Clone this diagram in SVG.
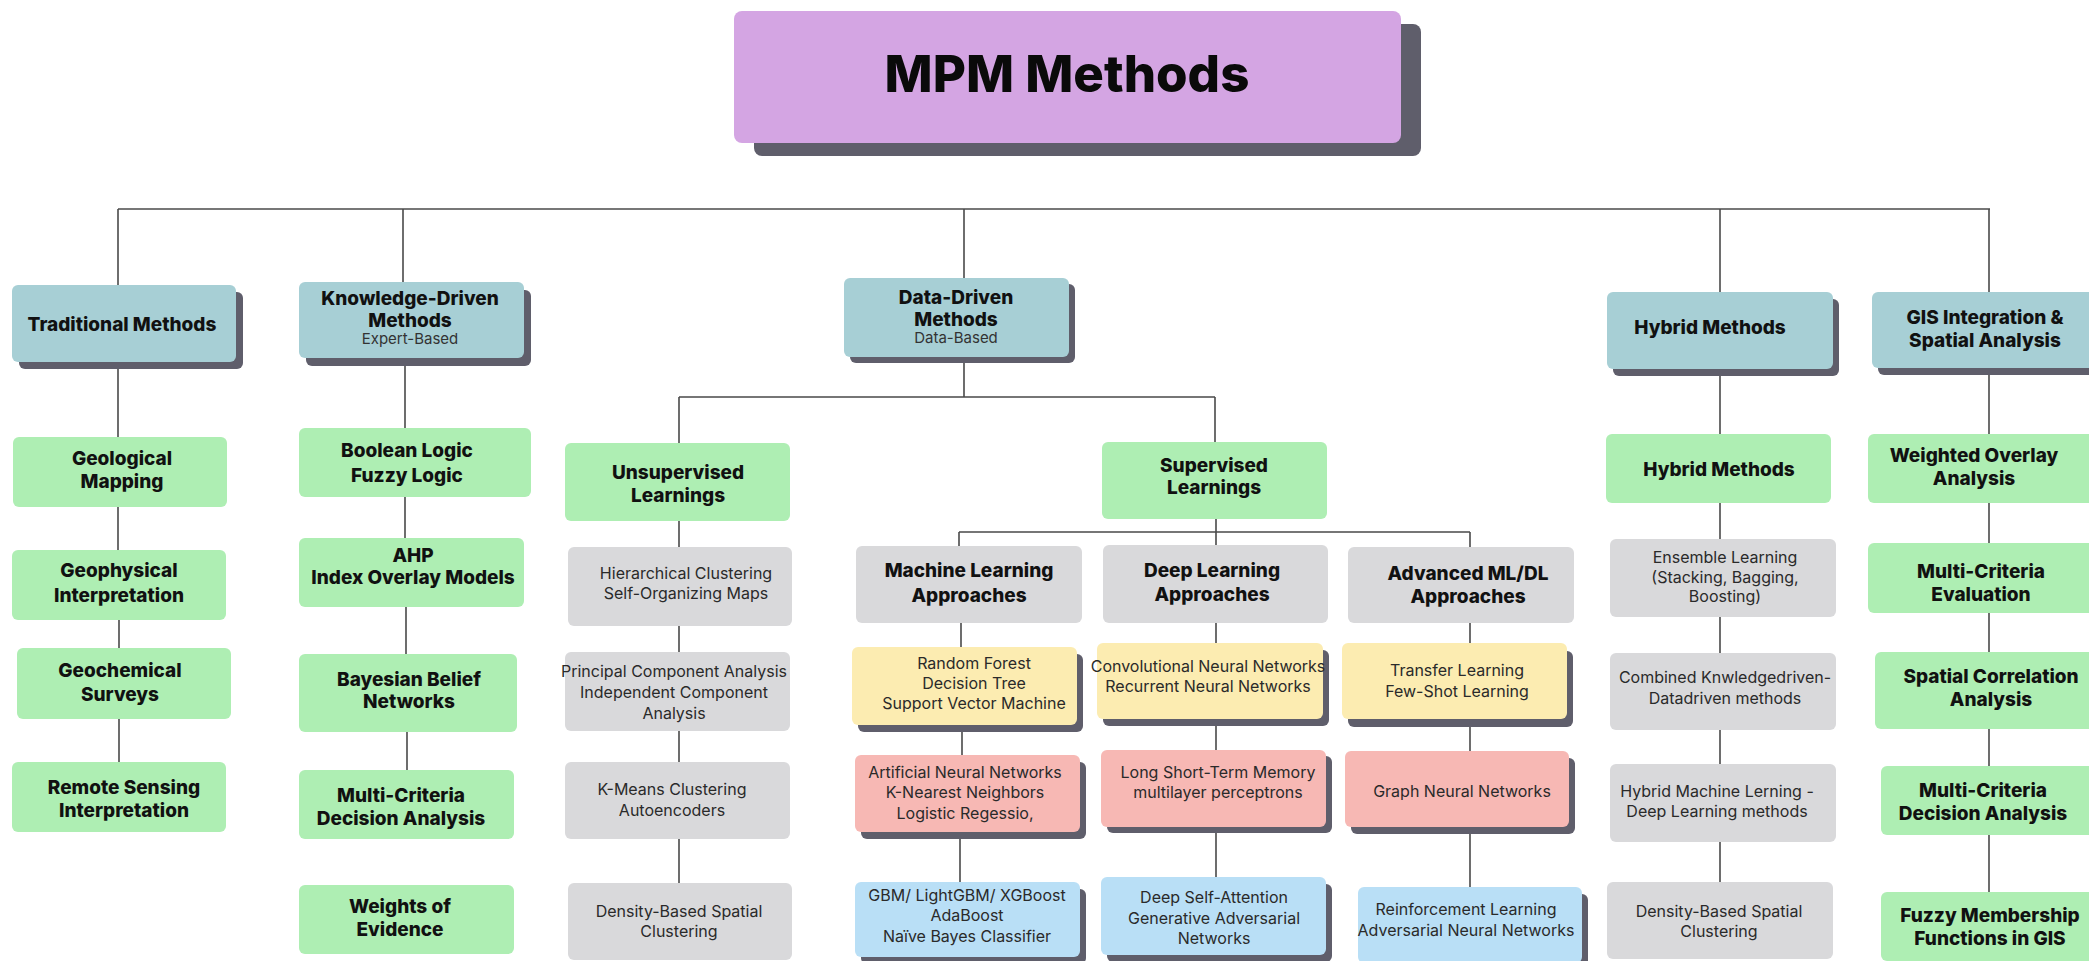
<svg xmlns="http://www.w3.org/2000/svg" width="2089" height="961" viewBox="0 0 2089 961">
<style>
.bg{fill:#ffffff}
.sh{fill:#5f5e6b}
.ttl{fill:#d4a5e3}
.hdr{fill:#a7cfd5}
.grn{fill:#aeeeb3}
.gry{fill:#d9d9db}
.yel{fill:#fcecb1}
.pnk{fill:#f7b8b4}
.blu{fill:#b9dff6}
.con path{fill:none;stroke:#4a4a4a;stroke-width:1.6}
text{font-family:Inter,"Liberation Sans",Arial,sans-serif;text-anchor:middle}
.t{font-size:51px;font-weight:800;fill:#0a0a0a}
.b{font-size:19px;font-weight:800;fill:#111111}
.r{font-size:16px;font-weight:400;fill:#2a2a2a}
.s{font-size:15px;font-weight:400;fill:#333333}
</style>
<rect class="bg" x="0" y="0" width="2089" height="961"/>
<g id="connectors" class="con">
<path d="M118 209H1990"/>
<path d="M118 209V285"/>
<path d="M403 209V282"/>
<path d="M964 209V278"/>
<path d="M1720 209V292"/>
<path d="M1989 209V292"/>
<path d="M118 369V437M118 507V550M119 620V648M119 719V762"/>
<path d="M405 366V428M405 497V538M406 607V654M407 732V770"/>
<path d="M964 363V397M679 397H1215M679 397V443M1215 397V442M679 521V547M679 626V652M679 731V762M679 839V883"/>
<path d="M1216 519V545M959 532H1470M959 532V546M1470 532V547"/>
<path d="M961 623V647M962 732V755M960 839V882"/>
<path d="M1216 623V643M1216 726V750M1216 833V877"/>
<path d="M1470 623V643M1470 727V751M1470 834V887"/>
<path d="M1720 376V434M1720 503V539M1720 617V653M1720 730V764M1720 842V882"/>
<path d="M1989 368V434M1989 503V543M1989 613V652M1989 729V766M1989 835V892"/>
</g>
<g id="title">
<rect class="sh" x="754" y="24" width="667" height="132" rx="8"/>
<rect class="ttl" x="734" y="11" width="667" height="132" rx="8"/>
<text class="t" x="1067" y="92">MPM Methods</text>
</g>
<g id="traditional">
<rect class="sh" x="19" y="292" width="224" height="77" rx="6"/>
<rect class="hdr" x="12" y="285" width="224" height="77" rx="6"/>
<text class="b" x="122" y="331">Traditional Methods</text>
</g>
<g id="knowledge">
<rect class="sh" x="306" y="290" width="225" height="76" rx="6"/>
<rect class="hdr" x="299" y="282" width="225" height="76" rx="6"/>
<text class="b" x="410" y="305">Knowledge-Driven</text>
<text class="b" x="410" y="327">Methods</text>
<text class="s" x="410" y="344">Expert-Based</text>
</g>
<g id="datadriven">
<rect class="sh" x="850" y="284" width="225" height="79" rx="6"/>
<rect class="hdr" x="844" y="278" width="225" height="79" rx="6"/>
<text class="b" x="956" y="304">Data-Driven</text>
<text class="b" x="956" y="326">Methods</text>
<text class="s" x="956" y="343">Data-Based</text>
</g>
<g id="hybrid">
<rect class="sh" x="1613" y="299" width="226" height="77" rx="6"/>
<rect class="hdr" x="1607" y="292" width="226" height="77" rx="6"/>
<text class="b" x="1710" y="334">Hybrid Methods</text>
</g>
<g id="gis">
<rect class="sh" x="1878" y="299" width="226" height="76" rx="6"/>
<rect class="hdr" x="1872" y="292" width="226" height="76" rx="6"/>
<text class="b" x="1985" y="324">GIS Integration &amp;</text>
<text class="b" x="1985" y="347">Spatial Analysis</text>
</g>
<g id="geological">
<rect class="grn" x="13" y="437" width="214" height="70" rx="6"/>
<text class="b" x="122" y="465">Geological</text>
<text class="b" x="122" y="488">Mapping</text>
</g>
<g id="geophysical">
<rect class="grn" x="12" y="550" width="214" height="70" rx="6"/>
<text class="b" x="119" y="577">Geophysical</text>
<text class="b" x="119" y="602">Interpretation</text>
</g>
<g id="geochemical">
<rect class="grn" x="17" y="648" width="214" height="71" rx="6"/>
<text class="b" x="120" y="677">Geochemical</text>
<text class="b" x="120" y="701">Surveys</text>
</g>
<g id="remote">
<rect class="grn" x="12" y="762" width="214" height="70" rx="6"/>
<text class="b" x="124" y="794">Remote Sensing</text>
<text class="b" x="124" y="817">Interpretation</text>
</g>
<g id="boolean">
<rect class="grn" x="299" y="428" width="232" height="69" rx="6"/>
<text class="b" x="407" y="457">Boolean Logic</text>
<text class="b" x="407" y="482">Fuzzy Logic</text>
</g>
<g id="ahp">
<rect class="grn" x="299" y="538" width="225" height="69" rx="6"/>
<text class="b" x="413" y="562">AHP</text>
<text class="b" x="413" y="584">Index Overlay Models</text>
</g>
<g id="bayesian">
<rect class="grn" x="299" y="654" width="218" height="78" rx="6"/>
<text class="b" x="409" y="686">Bayesian Belief</text>
<text class="b" x="409" y="708">Networks</text>
</g>
<g id="mcda-k">
<rect class="grn" x="299" y="770" width="215" height="69" rx="6"/>
<text class="b" x="401" y="802">Multi-Criteria</text>
<text class="b" x="401" y="825">Decision Analysis</text>
</g>
<g id="woe">
<rect class="grn" x="299" y="885" width="215" height="69" rx="6"/>
<text class="b" x="400" y="913">Weights of</text>
<text class="b" x="400" y="936">Evidence</text>
</g>
<g id="unsupervised">
<rect class="grn" x="565" y="443" width="225" height="78" rx="6"/>
<text class="b" x="678" y="479">Unsupervised</text>
<text class="b" x="678" y="502">Learnings</text>
</g>
<g id="hierarchical">
<rect class="gry" x="568" y="547" width="224" height="79" rx="6"/>
<text class="r" x="686" y="579">Hierarchical Clustering</text>
<text class="r" x="686" y="599">Self-Organizing Maps</text>
</g>
<g id="pca">
<rect class="gry" x="565" y="652" width="225" height="79" rx="6"/>
<text class="r" x="674" y="677">Principal Component Analysis</text>
<text class="r" x="674" y="698">Independent Component</text>
<text class="r" x="674" y="719">Analysis</text>
</g>
<g id="kmeans">
<rect class="gry" x="565" y="762" width="225" height="77" rx="6"/>
<text class="r" x="672" y="795">K-Means Clustering</text>
<text class="r" x="672" y="816">Autoencoders</text>
</g>
<g id="density-u">
<rect class="gry" x="568" y="883" width="224" height="77" rx="6"/>
<text class="r" x="679" y="917">Density-Based Spatial</text>
<text class="r" x="679" y="937">Clustering</text>
</g>
<g id="supervised">
<rect class="grn" x="1102" y="442" width="225" height="77" rx="6"/>
<text class="b" x="1214" y="472">Supervised</text>
<text class="b" x="1214" y="494">Learnings</text>
</g>
<g id="ml">
<rect class="gry" x="856" y="546" width="226" height="77" rx="6"/>
<text class="b" x="969" y="577">Machine Learning</text>
<text class="b" x="969" y="602">Approaches</text>
</g>
<g id="dl">
<rect class="gry" x="1103" y="545" width="225" height="78" rx="6"/>
<text class="b" x="1212" y="577">Deep Learning</text>
<text class="b" x="1212" y="601">Approaches</text>
</g>
<g id="adv">
<rect class="gry" x="1348" y="547" width="226" height="76" rx="6"/>
<text class="b" x="1468" y="580">Advanced ML/DL</text>
<text class="b" x="1468" y="603">Approaches</text>
</g>
<g id="ml1">
<rect class="sh" x="858" y="654" width="225" height="78" rx="6"/>
<rect class="yel" x="852" y="647" width="225" height="78" rx="6"/>
<text class="r" x="974" y="669">Random Forest</text>
<text class="r" x="974" y="689">Decision Tree</text>
<text class="r" x="974" y="709">Support Vector Machine</text>
</g>
<g id="ml2">
<rect class="sh" x="861" y="762" width="225" height="77" rx="6"/>
<rect class="pnk" x="855" y="755" width="225" height="77" rx="6"/>
<text class="r" x="965" y="778">Artificial Neural Networks</text>
<text class="r" x="965" y="798">K-Nearest Neighbors</text>
<text class="r" x="965" y="819">Logistic Regessio,</text>
</g>
<g id="ml3">
<rect class="sh" x="861" y="889" width="225" height="75" rx="6"/>
<rect class="blu" x="855" y="882" width="225" height="75" rx="6"/>
<text class="r" x="967" y="901">GBM/ LightGBM/ XGBoost</text>
<text class="r" x="967" y="921">AdaBoost</text>
<text class="r" x="967" y="942">Naïve Bayes Classifier</text>
</g>
<g id="dl1">
<rect class="sh" x="1103" y="650" width="226" height="76" rx="6"/>
<rect class="yel" x="1097" y="643" width="226" height="76" rx="6"/>
<text class="r" x="1208" y="672">Convolutional Neural Networks</text>
<text class="r" x="1208" y="692">Recurrent Neural Networks</text>
</g>
<g id="dl2">
<rect class="sh" x="1107" y="756" width="225" height="77" rx="6"/>
<rect class="pnk" x="1101" y="750" width="225" height="77" rx="6"/>
<text class="r" x="1218" y="778">Long Short-Term Memory</text>
<text class="r" x="1218" y="798">multilayer perceptrons</text>
</g>
<g id="dl3">
<rect class="sh" x="1107" y="884" width="225" height="78" rx="6"/>
<rect class="blu" x="1101" y="877" width="225" height="78" rx="6"/>
<text class="r" x="1214" y="903">Deep Self-Attention</text>
<text class="r" x="1214" y="924">Generative Adversarial</text>
<text class="r" x="1214" y="944">Networks</text>
</g>
<g id="adv1">
<rect class="sh" x="1348" y="651" width="225" height="76" rx="6"/>
<rect class="yel" x="1342" y="643" width="225" height="76" rx="6"/>
<text class="r" x="1457" y="676">Transfer Learning</text>
<text class="r" x="1457" y="697">Few-Shot Learning</text>
</g>
<g id="adv2">
<rect class="sh" x="1351" y="758" width="224" height="76" rx="6"/>
<rect class="pnk" x="1345" y="751" width="224" height="76" rx="6"/>
<text class="r" x="1462" y="797">Graph Neural Networks</text>
</g>
<g id="adv3">
<rect class="sh" x="1364" y="894" width="224" height="76" rx="6"/>
<rect class="blu" x="1358" y="887" width="224" height="76" rx="6"/>
<text class="r" x="1466" y="915">Reinforcement Learning</text>
<text class="r" x="1466" y="936">Adversarial Neural Networks</text>
</g>
<g id="hybrid-green">
<rect class="grn" x="1606" y="434" width="225" height="69" rx="6"/>
<text class="b" x="1719" y="476">Hybrid Methods</text>
</g>
<g id="ensemble">
<rect class="gry" x="1610" y="539" width="226" height="78" rx="6"/>
<text class="r" x="1725" y="563">Ensemble Learning</text>
<text class="r" x="1725" y="583">(Stacking, Bagging,</text>
<text class="r" x="1725" y="602">Boosting)</text>
</g>
<g id="combined">
<rect class="gry" x="1610" y="653" width="226" height="77" rx="6"/>
<text class="r" x="1725" y="683">Combined Knwledgedriven-</text>
<text class="r" x="1725" y="704">Datadriven methods</text>
</g>
<g id="hybrid-mldl">
<rect class="gry" x="1610" y="764" width="226" height="78" rx="6"/>
<text class="r" x="1717" y="797">Hybrid Machine Lerning -</text>
<text class="r" x="1717" y="817">Deep Learning methods</text>
</g>
<g id="density-h">
<rect class="gry" x="1607" y="882" width="226" height="77" rx="6"/>
<text class="r" x="1719" y="917">Density-Based Spatial</text>
<text class="r" x="1719" y="937">Clustering</text>
</g>
<g id="weighted">
<rect class="grn" x="1868" y="434" width="230" height="69" rx="6"/>
<text class="b" x="1974" y="462">Weighted Overlay</text>
<text class="b" x="1974" y="485">Analysis</text>
</g>
<g id="mce">
<rect class="grn" x="1868" y="543" width="230" height="70" rx="6"/>
<text class="b" x="1981" y="578">Multi-Criteria</text>
<text class="b" x="1981" y="601">Evaluation</text>
</g>
<g id="spatialcorr">
<rect class="grn" x="1875" y="652" width="225" height="77" rx="6"/>
<text class="b" x="1991" y="683">Spatial Correlation</text>
<text class="b" x="1991" y="706">Analysis</text>
</g>
<g id="mcda-g">
<rect class="grn" x="1881" y="766" width="220" height="69" rx="6"/>
<text class="b" x="1983" y="797">Multi-Criteria</text>
<text class="b" x="1983" y="820">Decision Analysis</text>
</g>
<g id="fuzzy">
<rect class="grn" x="1881" y="892" width="220" height="69" rx="6"/>
<text class="b" x="1990" y="922">Fuzzy Membership</text>
<text class="b" x="1990" y="945">Functions in GIS</text>
</g>
</svg>
